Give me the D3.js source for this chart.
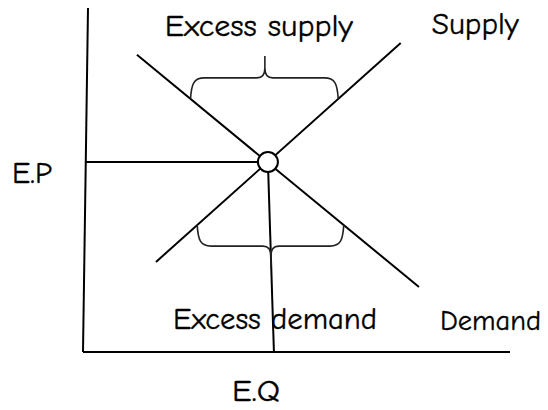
<!DOCTYPE html>
<html>
<head>
<meta charset="utf-8">
<script src="https://cdn.jsdelivr.net/npm/d3@7"></script>
<style>
  html, body { margin: 0; padding: 0; background: #fff; }
  svg { display: block; }
  text { font-family: "Comic Sans MS", "Comic Neue", "Noto Sans", sans-serif; fill: #000; stroke: #000; stroke-width: 0.35px; }
</style>
</head>
<body>
<svg id="chart" width="548" height="410"></svg>
<script>
// ---- data (quantity, price in arbitrary units) ----
const supplyQ = [1.94, 8.63];
const supplyP = [2.37, 8.13];
const demandQ = [1.42, 9.13];
const demandP = [7.82, 1.71];
const equilibriumQP = [5, 5];
const excessPrices = [6.66, 3.34];          // price above / below equilibrium
const gapLabels = ["Excess supply", "Excess demand"];
const curveNames = ["Supply", "Demand"];
const tickLabels = ["E.Q", "E.P"];

// ---- scales ----
const svg = d3.select("#chart");
const x = d3.scaleLinear().domain([0, 12]).range([85, 524]);
const y = d3.scaleLinear().domain([0, 9]).range([352, 10]);

const lineGen = d3.line().x(d => x(d[0])).y(d => y(d[1]));
const supply = d3.zip(supplyQ, supplyP);
const demand = d3.zip(demandQ, demandP);

// linear curve evaluation: quantity at a given price
function qAt(pts, p) {
  const [a, b] = pts;
  return a[0] + (p - a[1]) * (b[0] - a[0]) / (b[1] - a[1]);
}

// ---- axes (plain lines, hand-drawn look) ----
svg.append("line")
  .attr("x1", x(0) + 3).attr("y1", 8)
  .attr("x2", x(0) - 2).attr("y2", y(0))
  .attr("stroke", "#000").attr("stroke-width", 2);
svg.append("line")
  .attr("x1", x(0) - 2).attr("y1", y(0))
  .attr("x2", 510).attr("y2", y(0))
  .attr("stroke", "#000").attr("stroke-width", 2);

// ---- equilibrium guide lines ----
const [eq, ep] = equilibriumQP;
svg.append("line")
  .attr("x1", x(0) + 1).attr("y1", y(ep))
  .attr("x2", x(eq)).attr("y2", y(ep))
  .attr("stroke", "#000").attr("stroke-width", 2);
svg.append("line")
  .attr("x1", x(eq)).attr("y1", y(ep))
  .attr("x2", x(eq) + 6).attr("y2", y(0))
  .attr("stroke", "#000").attr("stroke-width", 2);

// ---- supply & demand ----
[supply, demand].forEach(pts => {
  svg.append("path").attr("d", lineGen(pts))
    .attr("fill", "none").attr("stroke", "#000").attr("stroke-width", 2);
});

// ---- braces ----
function bracePath(x1, x2, yEnd, yBar, yTip, xm) {
  const s = yTip < yBar ? -1 : 1;   // direction of the tip
  return [
    `M${x1},${yEnd}`,
    `C${x1 + 1},${yBar - s * 6} ${x1 + 3},${yBar} ${x1 + 14},${yBar}`,
    `L${xm - 8},${yBar}`,
    `C${xm - 2},${yBar} ${xm},${yBar + s * 4} ${xm},${yBar + s * 10}`,
    `L${xm},${yTip}`,
    `M${xm},${yBar + s * 10}`,
    `C${xm},${yBar + s * 4} ${xm + 2},${yBar} ${xm + 8},${yBar}`,
    `L${x2 - 14},${yBar}`,
    `C${x2 - 3},${yBar} ${x2 - 1},${yBar - s * 6} ${x2},${yEnd}`
  ].join(" ");
}

excessPrices.forEach((p, i) => {
  const qs = qAt(supply, p), qd = qAt(demand, p);
  const xa = x(Math.min(qs, qd)), xb = x(Math.max(qs, qd));
  const yEnd = y(p);
  const dir = p > ep ? -1 : 1;
  const yBar = yEnd + dir * 21;
  const yTip = yEnd + dir * 43;
  const xm = (xa + xb) / 2 + 0.5;
  svg.append("path")
    .attr("d", bracePath(xa, xb, yEnd, yBar, yTip, xm))
    .attr("fill", "none").attr("stroke", "#222").attr("stroke-width", 1.6);
  const t = svg.append("text").text(gapLabels[i]).attr("font-size", 31);
  if (i === 0) {
    t.attr("x", xm - 6).attr("y", yTip - 20).attr("text-anchor", "middle")
     .attr("textLength", 188).attr("lengthAdjust", "spacingAndGlyphs");
  } else {
    t.attr("x", xm + 4).attr("y", y(0) - 23).attr("text-anchor", "middle")
     .attr("textLength", 204).attr("lengthAdjust", "spacingAndGlyphs");
  }
});

// ---- equilibrium point ----
svg.append("circle")
  .attr("cx", x(eq)).attr("cy", y(ep)).attr("r", 10)
  .attr("fill", "#fff").attr("stroke", "#000").attr("stroke-width", 2);

// ---- curve names ----
const sTop = supply[1], dEnd = demand[1];
svg.append("text").text(curveNames[0]).attr("font-size", 31)
  .attr("x", x(sTop[0]) + 31).attr("y", y(sTop[1]) - 9)
  .attr("textLength", 87).attr("lengthAdjust", "spacingAndGlyphs");
svg.append("text").text(curveNames[1]).attr("font-size", 29)
  .attr("x", x(dEnd[0]) + 21).attr("y", y(dEnd[1]) + 43)
  .attr("textLength", 101).attr("lengthAdjust", "spacingAndGlyphs");

// ---- equilibrium labels ----
svg.append("text").text(tickLabels[0]).attr("font-size", 31)
  .attr("x", x(eq) - 12).attr("y", y(0) + 49).attr("text-anchor", "middle")
  .attr("textLength", 48).attr("lengthAdjust", "spacingAndGlyphs");
svg.append("text").text(tickLabels[1]).attr("font-size", 31)
  .attr("x", 12).attr("y", y(ep) + 21)
  .attr("textLength", 40).attr("lengthAdjust", "spacingAndGlyphs");
</script>
</body>
</html>
